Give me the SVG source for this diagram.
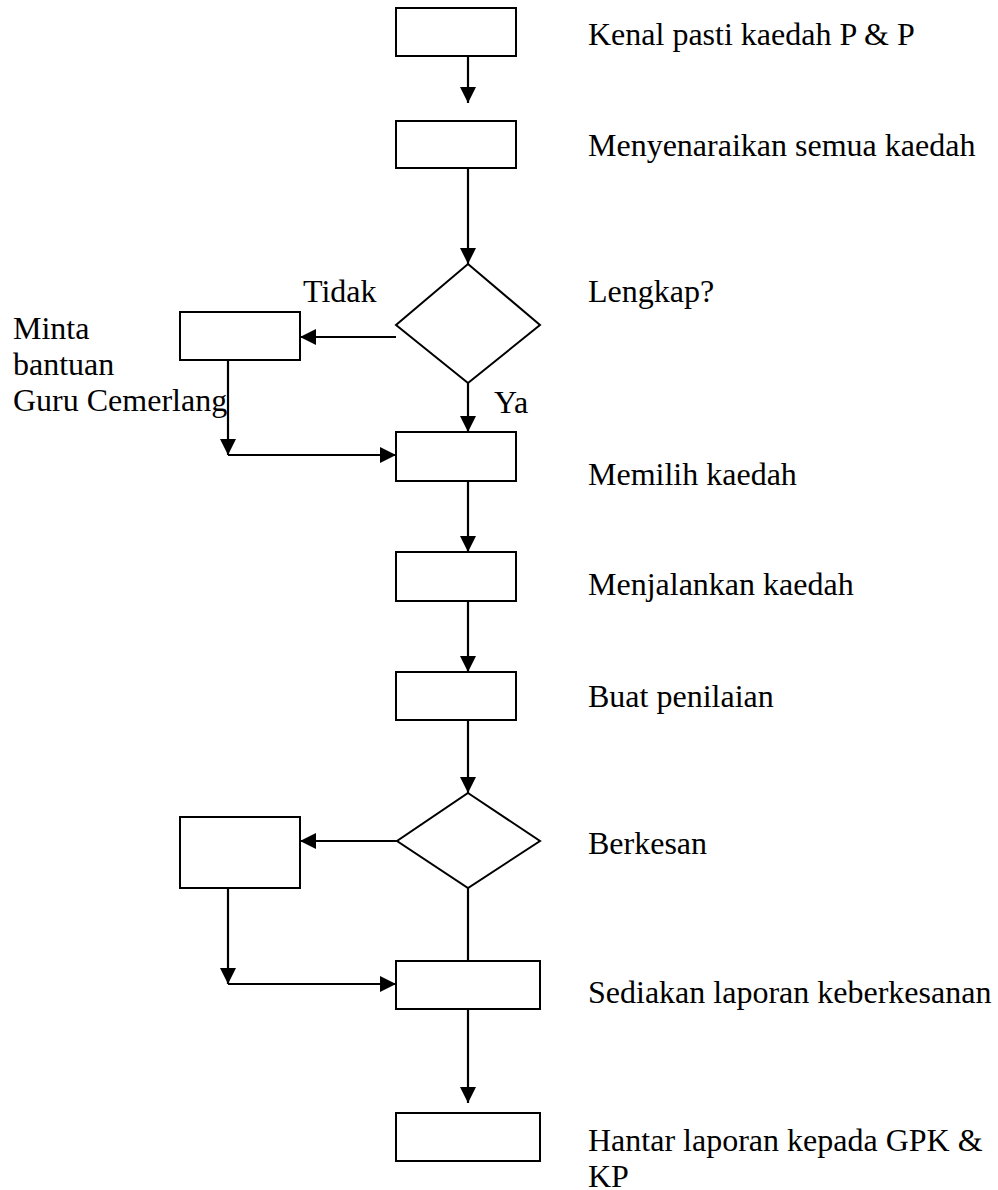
<svg xmlns="http://www.w3.org/2000/svg" width="998" height="1190" viewBox="0 0 998 1190">
<style>
.box{fill:#fff;stroke:#000;stroke-width:2}
.ln{fill:none;stroke:#000;stroke-width:2.2}
.t{font-family:"Liberation Serif","Times New Roman",serif;font-size:32px;fill:#000}
</style>
<defs>
<marker id="ah" viewBox="0 0 10 10" refX="10" refY="5" markerWidth="16" markerHeight="16" markerUnits="userSpaceOnUse" orient="auto">
<path d="M0,0 L10,5 L0,10 z" fill="#000"/>
</marker>
</defs>
<rect width="998" height="1190" fill="#fff"/>
<g id="connectors">
<line class="ln" x1="468" y1="56" x2="468" y2="103" marker-end="url(#ah)"/>
<line class="ln" x1="468" y1="168" x2="468" y2="264" marker-end="url(#ah)"/>
<line class="ln" x1="396" y1="337" x2="300" y2="337" marker-end="url(#ah)"/>
<line class="ln" x1="468" y1="383" x2="468" y2="432" marker-end="url(#ah)"/>
<line class="ln" x1="228" y1="360" x2="228" y2="455" marker-end="url(#ah)"/>
<line class="ln" x1="228" y1="455" x2="396" y2="455" marker-end="url(#ah)"/>
<line class="ln" x1="468" y1="481" x2="468" y2="552" marker-end="url(#ah)"/>
<line class="ln" x1="468" y1="601" x2="468" y2="672" marker-end="url(#ah)"/>
<line class="ln" x1="468" y1="720" x2="468" y2="793" marker-end="url(#ah)"/>
<line class="ln" x1="397" y1="841" x2="300" y2="841" marker-end="url(#ah)"/>
<line class="ln" x1="468" y1="888" x2="468" y2="961"/>
<line class="ln" x1="228" y1="888" x2="228" y2="984" marker-end="url(#ah)"/>
<line class="ln" x1="228" y1="984" x2="396" y2="984" marker-end="url(#ah)"/>
<line class="ln" x1="468" y1="1009" x2="468" y2="1103" marker-end="url(#ah)"/>
</g>
<g id="n1"><rect class="box" x="396" y="8" width="120" height="48"/><text class="t" x="588" y="45">Kenal pasti kaedah P &amp; P</text></g>
<g id="n2"><rect class="box" x="396" y="121" width="120" height="47"/><text class="t" x="588" y="156">Menyenaraikan semua kaedah</text></g>
<g id="d1"><polygon class="box" points="468,264 540,325 468,383 396,325"/><text class="t" x="588" y="302">Lengkap?</text></g>
<g id="lbl-tidak"><text class="t" x="303" y="302">Tidak</text></g>
<g id="lbl-ya"><text class="t" x="494" y="413">Ya</text></g>
<g id="n-minta"><rect class="box" x="180" y="312" width="120" height="48"/><text class="t" x="13" y="339">Minta</text><text class="t" x="13" y="375">bantuan</text><text class="t" x="13" y="411">Guru Cemerlang</text></g>
<g id="n3"><rect class="box" x="396" y="432" width="120" height="49"/><text class="t" x="588" y="485">Memilih kaedah</text></g>
<g id="n4"><rect class="box" x="396" y="552" width="120" height="49"/><text class="t" x="588" y="595">Menjalankan kaedah</text></g>
<g id="n5"><rect class="box" x="396" y="672" width="120" height="48"/><text class="t" x="588" y="707">Buat penilaian</text></g>
<g id="d2"><polygon class="box" points="468,793 540,841 468,888 397,841"/><text class="t" x="588" y="854">Berkesan</text></g>
<g id="n-left2"><rect class="box" x="180" y="817" width="120" height="71"/></g>
<g id="n6"><rect class="box" x="396" y="961" width="144" height="48"/><text class="t" x="588" y="1003">Sediakan laporan keberkesanan</text></g>
<g id="n7"><rect class="box" x="396" y="1113" width="144" height="48"/><text class="t" x="588" y="1151">Hantar laporan kepada GPK &amp;</text><text class="t" x="588" y="1187">KP</text></g>
</svg>
